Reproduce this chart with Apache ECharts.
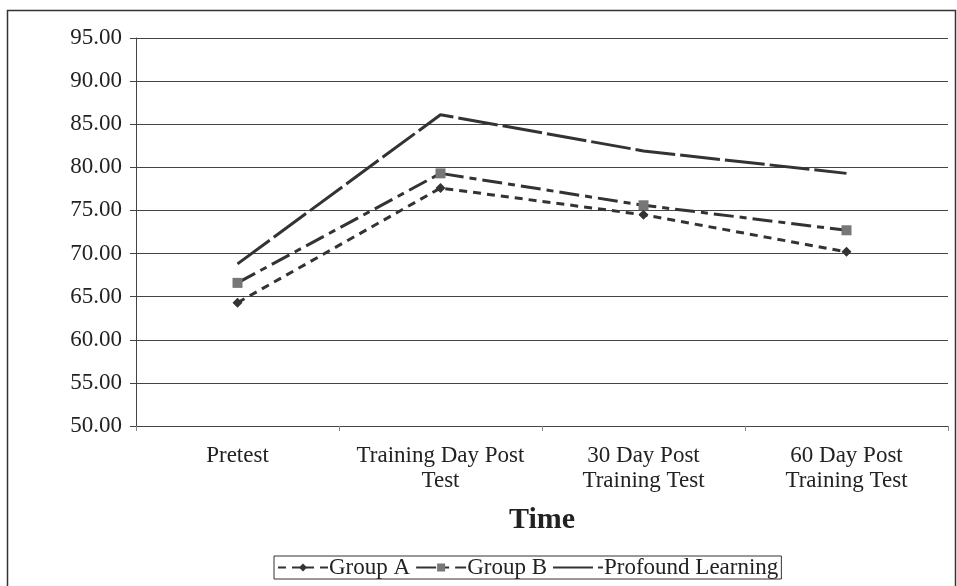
<!DOCTYPE html>
<html><head><meta charset="utf-8">
<script src="https://cdn.jsdelivr.net/npm/echarts@6/dist/echarts.min.js"></script>
<style>html,body{margin:0;padding:0;background:#fff}#c{width:957px;height:586px}</style>
</head><body><div id="c"></div>
<script>
var categories = ['Pretest', 'Training Day Post\nTest', '30 Day Post\nTraining Test', '60 Day Post\nTraining Test'];
var groupA = [64.3, 77.6, 74.5, 70.2];
var groupB = [66.6, 79.3, 75.6, 72.7];
var profound = [68.8, 86.1, 81.9, 79.3];
var yTicks = [50, 55, 60, 65, 70, 75, 80, 85, 90, 95];
var seriesNames = ['Group A', 'Group B', 'Profound Learning'];

var font = 'Liberation Serif';
var chart = echarts.init(document.getElementById('c'));
chart.setOption({
  animation: false,
  backgroundColor: '#fff',
  graphic: [{type: 'rect', shape: {x: 7.5, y: 10.5, width: 948, height: 600}, style: {fill: 'none', stroke: '#333', lineWidth: 1.5}}],
  grid: {left: 136, right: 9, top: 38, bottom: 160},
  legend: {
    left: 274, top: 556, orient: 'horizontal',
    data: [{name: seriesNames[0]}, {name: seriesNames[1]}, {name: seriesNames[2], itemStyle: {opacity: 0}}],
    borderColor: '#333', borderWidth: 1, padding: [0, 3, 0, 3],
    itemWidth: 50, itemHeight: 10, itemGap: 5,
    textStyle: {fontFamily: font, fontSize: 23, color: '#222', padding: [2, 0, 0, -4]}
  },
  xAxis: {
    type: 'category', data: categories, boundaryGap: true,
    name: 'Time', nameLocation: 'middle', nameGap: 79,
    nameTextStyle: {fontFamily: font, fontSize: 30, fontWeight: 'bold', color: '#222'},
    axisLine: {show: true, lineStyle: {color: '#444', width: 1}},
    axisTick: {show: true, length: 5, lineStyle: {color: '#888'}},
    axisLabel: {interval: 0, fontFamily: font, fontSize: 23, color: '#222', margin: 17, lineHeight: 25}
  },
  yAxis: {
    type: 'value', min: 50, max: 95, interval: 5,
    axisLine: {show: true, lineStyle: {color: '#444', width: 1}},
    axisTick: {show: true, length: 6, lineStyle: {color: '#444'}},
    splitLine: {show: true, lineStyle: {color: '#444', width: 1}},
    axisLabel: {fontFamily: font, fontSize: 23, color: '#222', margin: 14,
      formatter: function (v) { return v.toFixed(2); }}
  },
  series: [
    {name: seriesNames[0], type: 'line', data: groupA, symbol: 'diamond', symbolSize: 10,
      itemStyle: {color: '#333'},
      lineStyle: {color: '#333', width: 3, type: [8, 6]}},
    {name: seriesNames[1], type: 'line', data: groupB, symbol: 'rect', symbolSize: 10,
      itemStyle: {color: '#777'},
      lineStyle: {color: '#333', width: 3, type: [20, 6, 7, 6]}},
    {name: seriesNames[2], type: 'line', data: profound, symbol: 'none', showSymbol: false,
      itemStyle: {color: '#333'},
      lineStyle: {color: '#333', width: 3, type: [40, 5]}}
  ]
});
</script></body></html>
